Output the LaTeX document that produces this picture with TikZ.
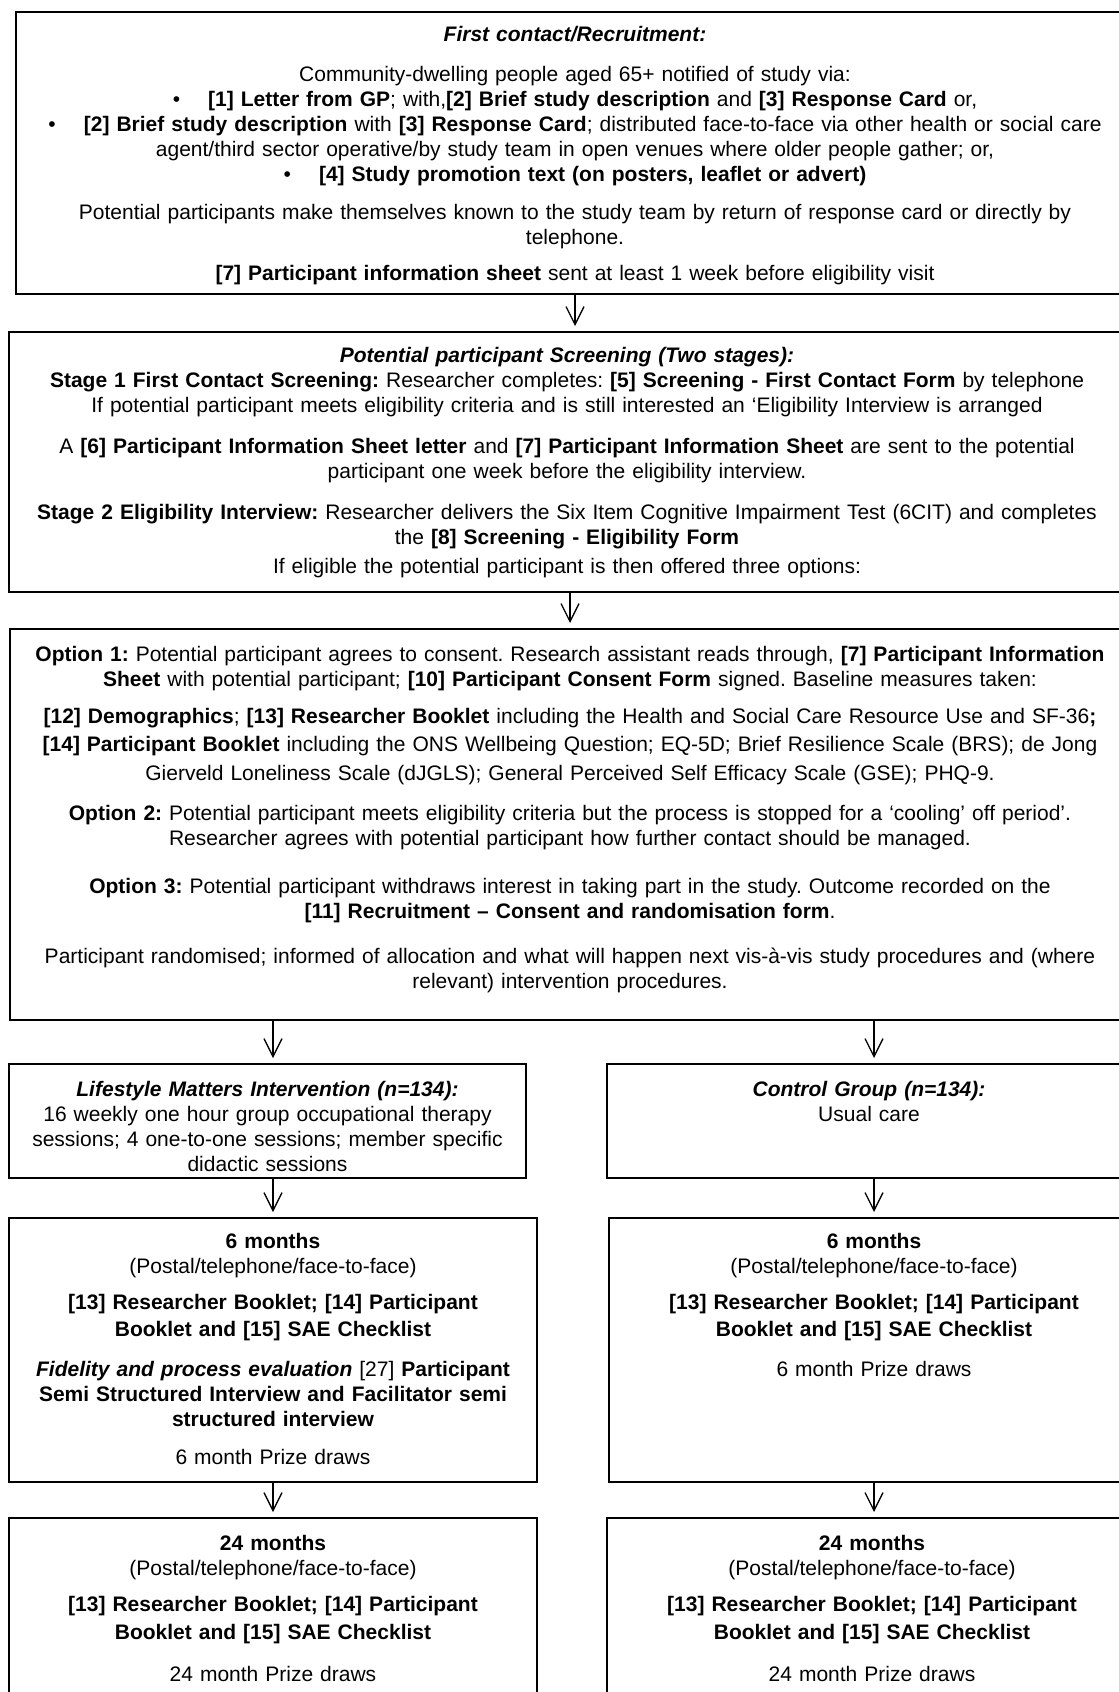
\documentclass[tikz,border=0pt]{standalone}
\usepackage{fontspec}
\setmainfont{Liberation Sans}
\usetikzlibrary{arrows.meta, positioning}
\newcommand{\itembullet}{\textbullet\hspace{14pt}}
\frenchspacing

\begin{document}
\begin{tikzpicture}[x=0.5pt, y=-0.5pt,
   frame/.style={draw, line width=1pt, inner sep=0pt},
   txt/.style={inner sep=0pt, align=center, font=\fontsize{10.5}{12.5}\selectfont},
   flow/.style={-{Straight Barb[length=9pt,width=9pt]}, line width=0.65pt, shorten >=2.5pt}]

 \useasboundingbox (0,0) rectangle (1119,1692);

 \node[frame, minimum width=559pt, minimum height=141pt] (recruit) at (575,153) {};
 \node[frame, minimum width=558pt, minimum height=130pt] (screen) at (567,462) {};
 \node[frame, minimum width=560pt, minimum height=195.5pt] (options) at (570,824.5) {};
 \node[frame, minimum width=258.5pt, minimum height=57pt] (lifestyle) at (267.5,1121) {};
 \node[frame, minimum width=262pt, minimum height=57pt] (control) at (869,1121) {};
 \node[frame, minimum width=264pt, minimum height=132pt] (sixA) at (273,1350) {};
 \node[frame, minimum width=265pt, minimum height=132pt] (sixB) at (874,1350) {};
 \node[frame, minimum width=264pt, minimum height=100pt] (twentyfourA) at (273,1618) {};
 \node[frame, minimum width=265pt, minimum height=100pt] (twentyfourB) at (872,1618) {};

 \node[txt, text width=555pt, below=7.5pt of recruit.north] (recruittext) {%
   \textbf{\textit{First contact/Recruitment:}}\\[7.5pt]
   Community-dwelling people aged 65+ notified of study via:\\
   \itembullet\textbf{[1] Letter from GP}; with,\textbf{[2] Brief study description} and \textbf{[3] Response Card} or,\\
   \itembullet\textbf{[2] Brief study description} with \textbf{[3] Response Card}; distributed face-to-face via other health or social care\\
   agent/third sector operative/by study team in open venues where older people gather; or,\\
   \itembullet\textbf{[4] Study promotion text (on posters, leaflet or advert)}\\[6.5pt]
   Potential participants make themselves known to the study team by return of response card or directly by\\
   telephone.\\[5.5pt]
   \textbf{[7] Participant information sheet} sent at least 1 week before eligibility visit};

 \node[txt, text width=555pt, below=8pt of screen.north] (screentext) {%
   \textbf{\textit{Potential participant Screening (Two stages):}}\\
   \textbf{Stage 1 First Contact Screening:} Researcher completes: \textbf{[5] Screening - First Contact Form} by telephone\\
   If potential participant meets eligibility criteria and is still interested an ‘Eligibility Interview is arranged\\[8pt]
   A \textbf{[6] Participant Information Sheet letter} and \textbf{[7] Participant Information Sheet} are sent to the potential\\
   participant one week before the eligibility interview.\\[8pt]
   \textbf{Stage 2 Eligibility Interview:} Researcher delivers the Six Item Cognitive Impairment Test (6CIT) and completes\\
   the \textbf{[8] Screening - Eligibility Form}\\[2pt]
   If eligible the potential participant is then offered three options:};

 \node[txt, text width=558pt, below=9pt of options.north] (optionstext) {%
   \textbf{Option 1:} Potential participant agrees to consent. Research assistant reads through, \textbf{[7] Participant Information}\\
   \textbf{Sheet} with potential participant; \textbf{[10] Participant Consent Form} signed. Baseline measures taken:\\[6pt]
   \textbf{[12] Demographics}; \textbf{[13] Researcher Booklet} including the Health and Social Care Resource Use and SF-36\textbf{;}\\[1.5pt]
   \textbf{[14] Participant Booklet} including the ONS Wellbeing Question; EQ-5D; Brief Resilience Scale (BRS); de Jong\\[2pt]
   Gierveld Loneliness Scale (dJGLS); General Perceived Self Efficacy Scale (GSE); PHQ-9.\\[7.5pt]
   \textbf{Option 2:} Potential participant meets eligibility criteria but the process is stopped for a ‘cooling’ off period’.\\
   Researcher agrees with potential participant how further contact should be managed.\\[11.5pt]
   \textbf{Option 3:} Potential participant withdraws interest in taking part in the study. Outcome recorded on the\\
   \textbf{[11] Recruitment – Consent and randomisation form}.\\[10pt]
   Participant randomised; informed of allocation and what will happen next vis-à-vis study procedures and (where\\
   relevant) intervention procedures.};

 \node[txt, text width=255pt, below=9pt of lifestyle.north] (lifestyletext) {%
   \textbf{\textit{Lifestyle Matters Intervention (n=134):}}\\
   16 weekly one hour group occupational therapy\\
   sessions; 4 one-to-one sessions; member specific\\
   didactic sessions};
 \node[txt, text width=258pt, below=9pt of control.north] (controltext) {%
   \textbf{\textit{Control Group (n=134):}}\\
   Usual care};

 \node[txt, text width=260pt, below=8pt of sixA.north] (sixAtext) {%
   \textbf{6 months}\\
   (Postal/telephone/face-to-face)\\[5.5pt]
   \textbf{[13] Researcher Booklet; [14] Participant}\\[1pt]
   \textbf{Booklet and [15] SAE Checklist}\\[7.5pt]
   \textbf{\textit{Fidelity and process evaluation}} [27] \textbf{Participant}\\
   \textbf{Semi Structured Interview and Facilitator semi}\\
   \textbf{structured interview}\\[6.5pt]
   6 month Prize draws};
 \node[txt, text width=260pt, below=8pt of sixB.north] (sixBtext) {%
   \textbf{6 months}\\
   (Postal/telephone/face-to-face)\\[5.5pt]
   \textbf{[13] Researcher Booklet; [14] Participant}\\[1pt]
   \textbf{Booklet and [15] SAE Checklist}\\[7.5pt]
   6 month Prize draws};

 \node[txt, text width=260pt, below=9pt of twentyfourA.north] (twentyfourAtext) {%
   \textbf{24 months}\\
   (Postal/telephone/face-to-face)\\[5.5pt]
   \textbf{[13] Researcher Booklet; [14] Participant}\\[1.5pt]
   \textbf{Booklet and [15] SAE Checklist}\\[8.5pt]
   24 month Prize draws};
 \node[txt, text width=260pt, below=9pt of twentyfourB.north] (twentyfourBtext) {%
   \textbf{24 months}\\
   (Postal/telephone/face-to-face)\\[5.5pt]
   \textbf{[13] Researcher Booklet; [14] Participant}\\[1.5pt]
   \textbf{Booklet and [15] SAE Checklist}\\[8.5pt]
   24 month Prize draws};

 \draw[flow] (recruit.south) -- (recruit.south |- screen.north);
 \draw[flow] (options.north |- screen.south) -- (options.north);
 \draw[flow] (sixA |- options.south) -- (sixA |- lifestyle.north);
 \draw[flow] (sixB |- options.south) -- (sixB |- control.north);
 \draw[flow] (sixA |- lifestyle.south) -- (sixA.north);
 \draw[flow] (sixB |- control.south) -- (sixB.north);
 \draw[flow] (sixA.south) -- (sixA.south |- twentyfourA.north);
 \draw[flow] (sixB.south) -- (sixB.south |- twentyfourB.north);
\end{tikzpicture}
\end{document}
